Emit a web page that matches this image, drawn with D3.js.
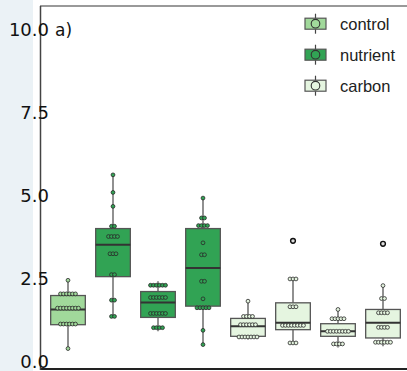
<!DOCTYPE html>
<html><head><meta charset="utf-8">
<script src="https://cdn.jsdelivr.net/npm/d3@7"></script>
<style>body{margin:0;background:#fff}svg{display:block}</style>
</head><body>
<script>
// ---- data ----
const groupIds = ["g1","g2","g3","g4","g5","g6","g7","g8"];
const treatment = ["control","nutrient","nutrient","nutrient","carbon","carbon","carbon","carbon"];
const q1     = [1.11, 2.56, 1.33, 1.67, 0.76, 0.96, 0.76, 0.71];
const median = [1.57, 3.52, 1.78, 2.82, 1.06, 1.17, 0.91, 1.17];
const q3     = [1.99, 4.01, 2.11, 4.01, 1.30, 1.77, 1.14, 1.57];
const whiskerLo = [0.39, 1.36, 0.91, 0.51, 0.66, 0.56, 0.42, 0.46];
const whiskerHi = [2.45, 5.63, 2.42, 4.93, 1.82, 2.49, 1.57, 2.29];
// dot rows: [value, count]
const dots = [
  [[2.45,1],[2.04,6],[1.61,8],[1.13,6],[0.39,1]],
  [[5.63,1],[5.10,1],[4.68,1],[4.08,2],[3.77,4],[3.25,3],[2.62,2],[1.85,2],[1.36,2]],
  [[2.30,6],[1.93,6],[1.45,6],[1.02,4]],
  [[4.93,1],[4.33,2],[4.10,4],[3.58,1],[3.22,2],[2.42,2],[1.89,1],[1.62,5],[0.94,1],[0.51,1]],
  [[1.82,1],[1.36,4],[1.11,6],[0.74,7]],
  [[2.49,3],[1.65,3],[1.09,8],[0.56,3]],
  [[1.57,1],[1.29,5],[0.91,8],[0.53,4]],
  [[2.29,1],[1.90,2],[1.47,4],[1.03,4],[0.58,6]]
];
const outliers = [[], [], [], [], [], [3.64], [], [3.55]];
const yTicks = [0, 2.5, 5, 7.5, 10];
const legendLabels = ["control","nutrient","carbon"];
const colors = {control:"#a1d99b", nutrient:"#31a354", carbon:"#e5f5e0"};

// ---- chart ----
const W = 407, H = 371;
const svg = d3.select("body").append("svg").attr("width", W).attr("height", H);

svg.append("rect").attr("x",0).attr("y",0).attr("width",33).attr("height",H).attr("fill","#ebf2f6");

const x = d3.scaleBand().domain(groupIds).range([45.5, 405.5]).paddingInner(0.23).paddingOuter(0.115);
const y = d3.scaleLinear().domain([0, 10]).range([361.5, 30]);

// frame
svg.append("line").attr("x1",40).attr("x2",W).attr("y1",6).attr("y2",6).attr("stroke","#777").attr("stroke-width",1.5);
svg.append("line").attr("x1",40).attr("x2",W).attr("y1",369).attr("y2",369).attr("stroke","#222").attr("stroke-width",2);
svg.append("line").attr("x1",40.5).attr("x2",40.5).attr("y1",6).attr("y2",370).attr("stroke","#444").attr("stroke-width",1.5);

// y axis labels
const yAxis = d3.axisLeft(y).tickValues(yTicks).tickSize(0).tickPadding(-9).tickFormat(d3.format(".1f"));
const ga = svg.append("g").attr("transform","translate(40,0)").call(yAxis);
ga.select(".domain").remove();
ga.selectAll("text").attr("font-family","DejaVu Sans").attr("font-size",18).attr("fill","#111");

svg.append("text").attr("x",55).attr("y",35.5).attr("font-family","DejaVu Sans").attr("font-size",17).attr("fill","#111").text("a)");

// boxes
groupIds.forEach((g,i)=>{
  const cx = x(g) + x.bandwidth()/2;
  const col = colors[treatment[i]];
  const grp = svg.append("g");
  grp.append("line").attr("x1",cx).attr("x2",cx).attr("y1",y(whiskerLo[i])).attr("y2",y(q1[i])).attr("stroke","#555").attr("stroke-width",1.3);
  grp.append("line").attr("x1",cx).attr("x2",cx).attr("y1",y(q3[i])).attr("y2",y(whiskerHi[i])).attr("stroke","#555").attr("stroke-width",1.3);
  grp.append("rect").attr("x",x(g)).attr("width",x.bandwidth()).attr("y",y(q3[i])).attr("height",y(q1[i])-y(q3[i]))
    .attr("fill",col).attr("stroke","#555").attr("stroke-width",1.3);
  grp.append("line").attr("x1",x(g)).attr("x2",x(g)+x.bandwidth()).attr("y1",y(median[i])).attr("y2",y(median[i])).attr("stroke","#333").attr("stroke-width",2);
  dots[i].forEach(([v,n])=>{
    for(let k=0;k<n;k++){
      const dx = (k-(n-1)/2)*3;
      grp.append("circle").attr("cx",cx+dx).attr("cy",y(v)).attr("r",1.9)
        .attr("fill",col).attr("stroke","#2a2a2a").attr("stroke-width",0.8);
    }
  });
  outliers[i].forEach(v=>{
    grp.append("circle").attr("cx",cx).attr("cy",y(v)).attr("r",2.4)
      .attr("fill","#ddd").attr("stroke","#111").attr("stroke-width",1.4);
  });
});

// legend
legendLabels.forEach((lab,i)=>{
  const cy = 23.7 + i*31;
  const lg = svg.append("g");
  lg.append("line").attr("x1",315.5).attr("x2",315.5).attr("y1",cy-10).attr("y2",cy+10).attr("stroke","#444").attr("stroke-width",1.2);
  lg.append("rect").attr("x",305).attr("y",cy-5.5).attr("width",21).attr("height",11).attr("fill",colors[lab]).attr("stroke","#555").attr("stroke-width",1.2);
  lg.append("circle").attr("cx",315.5).attr("cy",cy).attr("r",4.3).attr("fill",colors[lab]).attr("stroke","#333").attr("stroke-width",1.1);
  lg.append("text").attr("x",340).attr("y",cy+6.5).attr("font-family","Liberation Sans").attr("font-size",16.5).attr("fill","#222").text(lab);
});
</script>
</body></html>
